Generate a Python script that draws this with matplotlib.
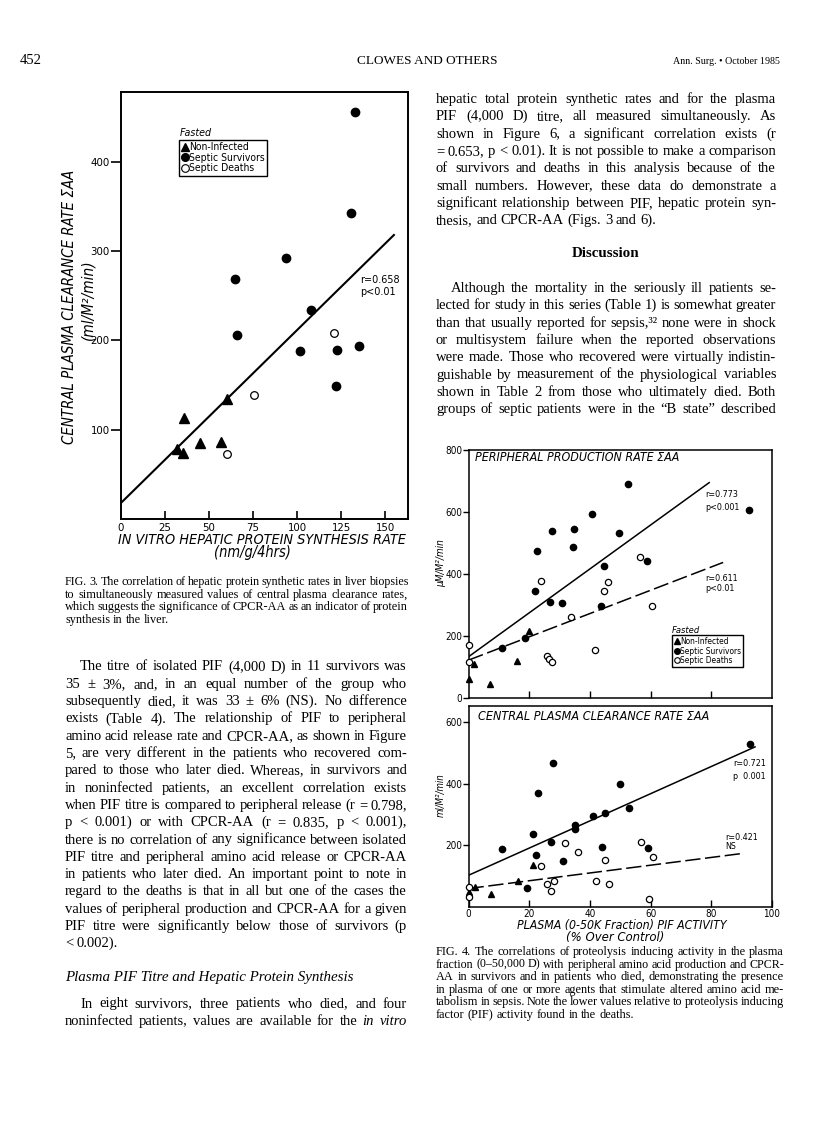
import os

import matplotlib
matplotlib.use('Agg')
import matplotlib.pyplot as plt
import numpy as np
from matplotlib import font_manager
from matplotlib.font_manager import FontProperties
from matplotlib.lines import Line2D

W, H = 816, 1121
SERIF = 'Liberation Serif'

# ---- Fig. 3 : hepatic protein synthesis vs CPCR-AA ----
f3_noninf_x = [32, 35, 36, 45, 57, 60]
f3_noninf_y = [78, 74, 113, 85, 86, 134]
f3_surv_x = [133, 130.6, 93.7, 64.5, 66, 108, 101.5, 122.4, 135.4, 122]
f3_surv_y = [456, 343, 292, 269, 206, 234, 188, 189, 194, 149]
f3_death_x = [120.7, 75.7, 60.2]
f3_death_y = [208, 139, 73]
f3_fit = (18, 1.935, 155)  # intercept, slope, x end
f3_xticks = [0, 25, 50, 75, 100, 125, 150]
f3_yticks = [100, 200, 300, 400]

# ---- Fig. 4 top : peripheral production rate ----
f4a_surv_x = [52.6, 40.6, 27.6, 34.7, 49.7, 92.5, 22.6, 34.5, 58.7, 44.7, 21.8, 26.8, 30.7, 43.6, 18.6, 10.9]
f4a_surv_y = [689, 593, 540, 544, 533, 606, 475, 486, 442, 426, 346, 311, 306, 298, 193, 163]
f4a_death_x = [56.5, 23.9, 45.8, 44.6, 33.8, 60.5, 0, 0, 41.7, 25.7, 26.6, 27.4]
f4a_death_y = [456, 379, 373, 346, 261, 297, 172, 116, 155, 137, 127, 118]
f4a_noninf_x = [19.8, 1.9, 15.8, 0, 7.1]
f4a_noninf_y = [217, 110, 120, 62, 46]
f4a_fit_all = (134, 7.07, 79.3)
f4a_fit_death = (123, 3.75, 83.9)
f4a_yticks = [0, 200, 400, 600, 800]

# ---- Fig. 4 bottom : central plasma clearance rate ----
f4b_surv_x = [92.9, 27.7, 49.9, 22.8, 52.8, 44.9, 40.9, 35, 35, 21.1, 27, 10.9, 44, 59, 22.1, 31.1, 19.1]
f4b_surv_y = [530, 468, 400, 371, 321, 306, 295, 267, 254, 238, 211, 188, 194, 191, 168, 149, 62]
f4b_death_x = [31.9, 56.8, 36, 60.9, 44.8, 24, 25.9, 28.2, 27, 42, 46.2, 0, 0, 59.5]
f4b_death_y = [206, 211, 179, 162, 151, 134, 76, 85, 52, 85, 76, 65, 33, 27]
f4b_noninf_x = [21.1, 16.2, 2.1, 0, 7.3]
f4b_noninf_y = [135, 85, 65, 48, 43]
f4b_fit_all = (103, 4.41, 94.4)
f4b_fit_death = (60, 1.26, 90)
f4b_xticks = [0, 20, 40, 60, 80, 100]
f4b_yticks = [200, 400, 600]

legend_labels = ['Non-Infected', 'Septic Survivors', 'Septic Deaths']

# ---- page text ----
fig3_caption = [
    'FIG. 3. The correlation of hepatic protein synthetic rates in liver biopsies',
    'to simultaneously measured values of central plasma clearance rates,',
    'which suggests the significance of CPCR-AA as an indicator of protein',
    'synthesis in the liver.',
]
fig4_caption = [
    'FIG. 4. The correlations of proteolysis inducing activity in the plasma',
    'fraction (0\u201350,000 D) with peripheral amino acid production and CPCR-',
    'AA in survivors and in patients who died, demonstrating the presence',
    'in plasma of one or more agents that stimulate altered amino acid me-',
    'tabolism in sepsis. Note the lower values relative to proteolysis inducing',
    'factor (PIF) activity found in the deaths.',
]
left_para1 = [
    'The titre of isolated PIF (4,000 D) in 11 survivors was',
    '35 \u00b1 3%, and, in an equal number of the group who',
    'subsequently died, it was 33 \u00b1 6% (NS). No difference',
    'exists (Table 4). The relationship of PIF to peripheral',
    'amino acid release rate and CPCR-AA, as shown in Figure',
    '5, are very different in the patients who recovered com-',
    'pared to those who later died. Whereas, in survivors and',
    'in noninfected patients, an excellent correlation exists',
    'when PIF titre is compared to peripheral release (r = 0.798,',
    'p < 0.001) or with CPCR-AA (r = 0.835, p < 0.001),',
    'there is no correlation of any significance between isolated',
    'PIF titre and peripheral amino acid release or CPCR-AA',
    'in patients who later died. An important point to note in',
    'regard to the deaths is that in all but one of the cases the',
    'values of peripheral production and CPCR-AA for a given',
    'PIF titre were significantly below those of survivors (p',
    '< 0.002).',
]
left_heading = 'Plasma PIF Titre and Hepatic Protein Synthesis'
left_para2 = [
    'In eight survivors, three patients who died, and four',
    'noninfected patients, values are available for the _in_ _vitro_',
]
right_para1 = [
    'hepatic total protein synthetic rates and for the plasma',
    'PIF (4,000 D) titre, all measured simultaneously. As',
    'shown in Figure 6, a significant correlation exists (r',
    '= 0.653, p < 0.01). It is not possible to make a comparison',
    'of survivors and deaths in this analysis because of the',
    'small numbers. However, these data do demonstrate a',
    'significant relationship between PIF, hepatic protein syn-',
    'thesis, and CPCR-AA (Figs. 3 and 6).',
]
right_heading = 'Discussion'
right_para2 = [
    'Although the mortality in the seriously ill patients se-',
    'lected for study in this series (Table 1) is somewhat greater',
    'than that usually reported for sepsis,\u00b3\u00b2 none were in shock',
    'or multisystem failure when the reported observations',
    'were made. Those who recovered were virtually indistin-',
    'guishable by measurement of the physiological variables',
    'shown in Table 2 from those who ultimately died. Both',
    'groups of septic patients were in the \u201cB state\u201d described',
]


# pick a condensed sans for the chart lettering if one is installed
def find_font(patterns):
    files = {os.path.basename(f.fname): f.fname for f in font_manager.fontManager.ttflist}
    for p in patterns:
        for base, path in files.items():
            if base.startswith(p):
                return path
    return None


REG_FILE = find_font(['LiberationSansNarrow-Regular', 'DejaVuSansCondensed.ttf', 'NotoSans-Condensed.ttf',
                      'NotoSans-CondensedRegular', 'OpenSans_Condensed-Regular', 'OpenSans-CondensedRegular',
                      'RobotoCondensed-Regular'])
ITA_FILE = find_font(['LiberationSansNarrow-Italic', 'DejaVuSansCondensed-Oblique', 'NotoSans-CondensedItalic',
                      'OpenSans_Condensed-Italic', 'OpenSans-CondensedItalic', 'RobotoCondensed-Italic'])


def fp(size, italic=False):
    path = ITA_FILE if italic else REG_FILE
    if path:
        return FontProperties(fname=path, size=size)
    return FontProperties(family=['Liberation Sans', 'DejaVu Sans'], style='italic' if italic else 'normal', size=size)


fig = plt.figure(figsize=(W / 100, H / 100), dpi=100, facecolor='white')
renderer = fig.canvas.get_renderer()


def axes_px(left, top, right, bottom):
    return fig.add_axes([left / W, 1 - bottom / H, (right - left) / W, (bottom - top) / H])


def px_text(x, y, s, **kw):
    return fig.text(x / W, 1 - y / H, s, **kw)


def size_for(s, target, italic=False):
    t = fig.text(0, 0, s, fontproperties=fp(10, italic))
    w = t.get_window_extent(renderer).width
    t.remove()
    return 10 * target / w


def label(x, y, s, target, rot=0, ha='center'):
    return px_text(x, y, s, fontproperties=fp(size_for(s, target, True), True), rotation=rot,
                   ha=ha, va='center')


def put_line(line, x0, x1, y, size, justify=True, style='normal'):
    while True:
        items = []
        for w in line.split(' '):
            st = style
            if w.startswith('_') and w.endswith('_'):
                w, st = w[1:-1], 'italic'
            items.append(px_text(x0, y, w, fontsize=size, family=SERIF, style=st, ha='left', va='baseline'))
        widths = [t.get_window_extent(renderer).width for t in items]
        gap = size * 0.25 * 100 / 72
        if justify and len(items) > 1:
            gap = (x1 - x0 - sum(widths)) / (len(items) - 1)
        if gap >= 2 or not justify:
            break
        for t in items:
            t.remove()
        size *= 0.98
    x = x0
    for t, w in zip(items, widths):
        t.set_x(x / W)
        x += w + gap


def put_block(lines, x0, x1, y0, step, size, indent=0, last_free=True):
    for i, line in enumerate(lines):
        free = last_free and i == len(lines) - 1
        put_line(line, x0 + (indent if i == 0 else 0), x1, y0 + i * step, size, not free)


def scatter_groups(ax, nx, ny, sx, sy, dx, dy, ms_tri, ms_dot, ms_open):
    ax.plot(nx, ny, ls='none', marker='^', ms=ms_tri, color='k', zorder=3, clip_on=False)
    ax.plot(sx, sy, ls='none', marker='o', ms=ms_dot, color='k', zorder=3, clip_on=False)
    ax.plot(dx, dy, ls='none', marker='o', ms=ms_open, mfc='white', mec='k', mew=0.9, zorder=3, clip_on=False)


def add_legend(ax, anchor, ms, text_w, fasted_xy, fasted_w):
    handles = [Line2D([], [], ls='none', marker='^', color='k', ms=ms),
               Line2D([], [], ls='none', marker='o', color='k', ms=ms),
               Line2D([], [], ls='none', marker='o', mfc='white', mec='k', mew=0.8, ms=ms)]
    leg = ax.legend(handles, legend_labels, loc='upper left', bbox_to_anchor=anchor,
                    frameon=True, fancybox=False, edgecolor='k', framealpha=1, borderpad=0.25,
                    handlelength=0.6, handletextpad=0.1, labelspacing=0.05, borderaxespad=0,
                    prop=fp(size_for('Septic Survivors', text_w)))
    leg.get_frame().set_linewidth(1.0)
    ax.text(fasted_xy[0], fasted_xy[1], 'Fasted', transform=ax.transAxes, va='center',
            fontproperties=fp(size_for('Fasted', fasted_w, True), True))


def fit_line(ax, fit_params, **kw):
    a, b, xend = fit_params
    xs = np.array([0, xend])
    ax.plot(xs, a + b * xs, color='k', **kw)


def style_ticks(ax, xt, yt, xlab, ylab, size):
    ax.set_xticks(xt)
    ax.set_yticks(yt)
    ax.set_xticklabels([str(v) for v in xt] if xlab else [], fontproperties=fp(size))
    ax.set_yticklabels([str(v) for v in yt] if ylab else [], fontproperties=fp(size))


# ================= Fig. 3 =================
ax3 = axes_px(121, 92, 408, 519)
ax3.set_xlim(0, 163)
ax3.set_ylim(0, 478)
scatter_groups(ax3, f3_noninf_x, f3_noninf_y, f3_surv_x, f3_surv_y, f3_death_x, f3_death_y, 6.5, 6, 5.5)
fit_line(ax3, f3_fit, lw=1.5)
for s in ax3.spines.values():
    s.set_linewidth(1.4)
style_ticks(ax3, f3_xticks, f3_yticks, True, True, size_for('400', 19.5))
ax3.tick_params(axis='x', direction='in', length=6, width=1.2, pad=3)
ax3.tick_params(axis='y', direction='out', length=7, width=1.2, pad=1)
r_size = size_for('r=0.658', 40)
ax3.text(135.8, 268, 'r=0.658', fontproperties=fp(r_size), va='center')
ax3.text(135.8, 254, 'p<0.01', fontproperties=fp(r_size), va='center')
add_legend(ax3, (0.203, 0.888), 5.5, 76, (0.206, 0.904), 32)

label(70, 307, 'CENTRAL PLASMA CLEARANCE RATE \u03a3AA', 275, rot=90)
label(88, 300, '(ml/M\u00b2/min)', 80, rot=90)
label(262, 540, 'IN VITRO HEPATIC PROTEIN SYNTHESIS RATE', 288)
label(252, 553, '(nm/g/4hrs)', 77)

# ================= Fig. 4 (top) =================
tick4 = size_for('600', 17)
r4 = size_for('r=0.773', 33)

axa = axes_px(468.6, 449.9, 772, 698.3)
axa.set_xlim(0, 100)
axa.set_ylim(0, 800)
scatter_groups(axa, f4a_noninf_x, f4a_noninf_y, f4a_surv_x, f4a_surv_y, f4a_death_x, f4a_death_y, 5, 4.5, 4.5)
fit_line(axa, f4a_fit_all, lw=1.1)
fit_line(axa, f4a_fit_death, lw=1.1, dashes=(10, 3))
style_ticks(axa, [20, 40, 60, 80], f4a_yticks, False, True, tick4)
axa.tick_params(axis='x', direction='in', length=5, width=1)
axa.tick_params(axis='y', direction='out', length=4, width=1, pad=0.5)
axa.text(77.9, 655, 'r=0.773', fontproperties=fp(r4), va='center')
axa.text(77.9, 616, 'p<0.001', fontproperties=fp(r4), va='center')
axa.text(77.9, 386, 'r=0.611', fontproperties=fp(r4), va='center')
axa.text(77.9, 353, 'p<0.01', fontproperties=fp(r4), va='center')
axa.text(2.1, 774, 'PERIPHERAL PRODUCTION RATE \u03a3AA', va='center',
         fontproperties=fp(size_for('PERIPHERAL PRODUCTION RATE \u03a3AA', 205, True), True))
add_legend(axa, (0.671, 0.254), 4, 61, (0.67, 0.271), 28)

# ================= Fig. 4 (bottom) =================
axb = axes_px(468.6, 706, 772, 907)
axb.set_xlim(0, 100)
axb.set_ylim(0, 652)
scatter_groups(axb, f4b_noninf_x, f4b_noninf_y, f4b_surv_x, f4b_surv_y, f4b_death_x, f4b_death_y, 5, 4.5, 4.5)
fit_line(axb, f4b_fit_all, lw=1.1)
fit_line(axb, f4b_fit_death, lw=1.1, dashes=(10, 3))
style_ticks(axb, f4b_xticks, f4b_yticks, True, True, tick4)
axb.tick_params(axis='x', direction='in', length=5, width=1, pad=1.5)
axb.tick_params(axis='y', direction='out', length=4, width=1, pad=0.5)
axb.text(87.2, 465, 'r=0.721', fontproperties=fp(r4), va='center')
axb.text(87.2, 422, 'p  0.001', fontproperties=fp(r4), va='center')
axb.text(84.7, 227, 'r=0.421', fontproperties=fp(r4), va='center')
axb.text(84.7, 196, 'NS', fontproperties=fp(r4), va='center')
axb.text(3.1, 619, 'CENTRAL PLASMA CLEARANCE RATE \u03a3AA', va='center',
         fontproperties=fp(size_for('CENTRAL PLASMA CLEARANCE RATE \u03a3AA', 230, True), True))
for ax in (axa, axb):
    for s in ax.spines.values():
        s.set_linewidth(1.1)

label(441, 563, '\u00b5M/M\u00b2/min', 48, rot=90)
label(441, 795, 'ml/M\u00b2/min', 44, rot=90)
label(622, 925, 'PLASMA (0-50K Fraction) PIF ACTIVITY', 210)
label(615, 938, '(% Over Control)', 98)

# ================= page text =================
px_text(20, 64, '452', family=SERIF, fontsize=10.5, va='baseline')
px_text(427, 64, 'CLOWES AND OTHERS', family=SERIF, fontsize=9.5, ha='center', va='baseline')
px_text(780, 64, 'Ann. Surg. \u2022 October 1985', family=SERIF, fontsize=7.2, ha='right', va='baseline')

put_block(fig3_caption, 65, 408, 585, 12.6, 8.8)
put_block(left_para1, 65, 407, 670.5, 17.3, 10.5, indent=15)
px_text(65, 981.5, left_heading, family=SERIF, style='italic', fontsize=10.8, va='baseline')
put_block(left_para2, 65, 407, 1007.5, 17.3, 10.5, indent=15, last_free=False)

put_block(right_para1, 436, 776, 103, 17.3, 10.5)
px_text(606, 257, right_heading, family=SERIF, weight='bold', fontsize=10.8, ha='center', va='baseline')
put_block(right_para2, 436, 776, 292, 17.3, 10.5, indent=15, last_free=False)
put_block(fig4_caption, 436, 784, 955, 12.6, 8.8)

fig.savefig('out.png', dpi=100, facecolor='white')
